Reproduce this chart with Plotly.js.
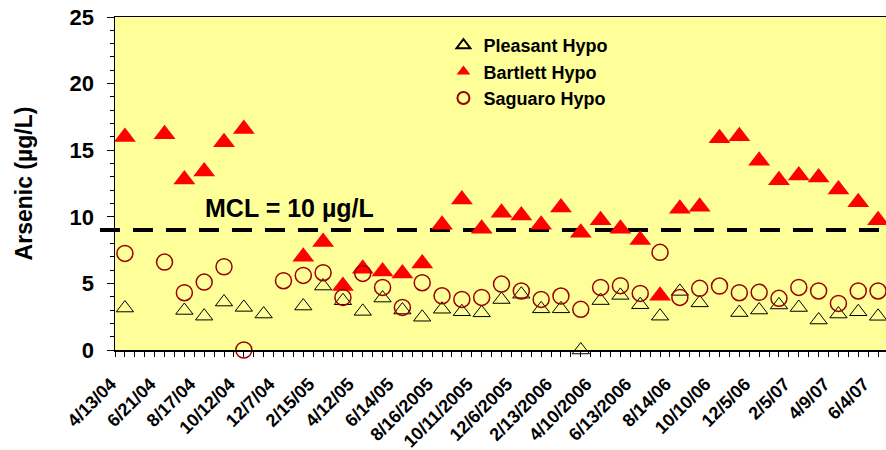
<!DOCTYPE html>
<html>
<head>
<meta charset="utf-8">
<script src="https://cdn.plot.ly/plotly-3.0.1.min.js"></script>
<style>html,body{margin:0;padding:0;background:#fff;}#chart{width:886px;height:450px;}</style>
</head>
<body>
<div id="chart"></div>
<script>
// sample slot positions on the category axis (tick intervals from the left edge)
var sampleSlot = [1,5,7,9,11,13,15,17,19,21,23,25,27,29,31,33,35,37,39,41,43,45,47,49,51,53,55,57,59,61,63,65,67,69,71,73,75,77];

var pleasantHypo = [3.15,null,2.97,2.54,3.6,3.2,2.7,null,3.3,4.8,3.7,2.9,3.9,3.0,2.46,3.06,2.87,2.79,3.79,4.19,3.09,3.09,0,3.71,4.1,3.4,2.54,4.4,3.54,null,2.81,3.0,3.38,3.19,2.25,2.7,2.87,2.53];
var bartlettHypo = [16.0,16.2,12.8,13.4,15.6,16.6,null,null,7.0,8.1,4.8,6.1,5.9,5.75,6.5,9.4,11.3,9.1,10.3,10.1,9.4,10.7,8.8,9.75,9.1,8.25,4.07,10.6,10.75,15.9,16.05,14.2,12.75,13.1,12.95,12.05,11.1,9.75];
var saguaroHypo = [7.25,6.6,4.3,5.1,6.25,0,null,5.2,5.6,5.8,3.95,5.75,4.7,3.2,5.05,4.07,3.8,3.95,4.95,4.43,3.8,4.05,3.05,4.7,4.83,4.25,7.33,3.95,4.63,4.8,4.3,4.33,3.88,4.7,4.43,3.5,4.43,4.43];

var labelSlot = [1,5,9,13,17,21,25,29,33,37,41,45,49,53,57,61,65,69,73,77];
var labelText = ["4/13/04","6/21/04","8/17/04","10/12/04","12/7/04","2/15/05","4/12/05","6/14/05","8/16/2005","10/11/2005","12/6/2005","2/13/2006","4/10/2006","6/13/2006","8/14/06","10/10/06","12/5/06","2/5/07","4/9/07","6/4/07"];

var mclLevel = 9;
var FONT = "Liberation Sans, Arial, sans-serif";

var traces = [
  {x: sampleSlot, y: pleasantHypo, name: "Pleasant Hypo", type: "scatter", mode: "markers", cliponaxis: false,
   marker: {symbol: "triangle-up-open", size: 15, color: "#000000", line: {width: 1, color: "#000000"}}},
  {x: sampleSlot, y: bartlettHypo, name: "Bartlett Hypo", type: "scatter", mode: "markers", cliponaxis: false,
   marker: {symbol: "triangle-up", size: 19, color: "#FF0000", line: {width: 0}}},
  {x: sampleSlot, y: saguaroHypo, name: "Saguaro Hypo", type: "scatter", mode: "markers", cliponaxis: false,
   marker: {symbol: "circle-open", size: 16, color: "#990000", line: {width: 1.5, color: "#990000"}}}
];

var layout = {
  width: 886, height: 450,
  margin: {l: 115, r: 0, t: 17, b: 100, pad: 0},
  paper_bgcolor: "#FFFFFF",
  plot_bgcolor: "#FFFF99",
  font: {family: FONT, color: "#000000"},
  showlegend: true,
  legend: {x: 0.426, y: 0.97, xanchor: "left", yanchor: "top", bgcolor: "rgba(0,0,0,0)",
           itemsizing: "constant", font: {family: FONT, size: 18, weight: "bold", color: "#000"}},
  xaxis: {
    range: [0, 77.8], showgrid: false, zeroline: false,
    showline: true, linecolor: "#000", linewidth: 1.5, mirror: true,
    tickmode: "array", tickvals: labelSlot, ticktext: labelText,
    ticks: "outside", ticklen: 5, tickcolor: "#000", tickwidth: 1,
    ticklabelshift: -14, ticklabelstandoff: 10,
    tickangle: -45, tickfont: {family: FONT, size: 18, weight: "bold", color: "#000"},
    minor: {tickmode: "linear", tick0: 0, dtick: 1, ticks: "outside", ticklen: 5, tickcolor: "#000", tickwidth: 1, showgrid: false}
  },
  yaxis: {
    range: [0, 25], dtick: 5, tick0: 0, showgrid: false, zeroline: false,
    showline: true, linecolor: "#000", linewidth: 1.5, mirror: true,
    ticks: "outside", ticklen: 7, tickcolor: "#000", tickwidth: 1,
    ticklabelstandoff: 8,
    tickfont: {family: FONT, size: 22, weight: "bold", color: "#000"},
    minor: {dtick: 1, ticks: "outside", ticklen: 4, tickcolor: "#000", tickwidth: 1, showgrid: false},
    title: {text: "Arsenic (µg/L)", standoff: 30, font: {family: FONT, size: 23, weight: "bold", color: "#000"}}
  },
  shapes: [{type: "line", xref: "paper", yref: "y", x0: -0.0195, x1: 1, y0: mclLevel, y1: mclLevel,
            layer: "below", line: {color: "#000", width: 4, dash: "20px,13px"}}],
  annotations: [{xref: "x", yref: "y", x: 17.6, y: 10.65, text: "MCL = 10 µg/L", showarrow: false,
                 font: {family: FONT, size: 25, weight: "bold", color: "#000"}}]
};

Plotly.newPlot("chart", traces, layout, {displayModeBar: false, staticPlot: true});
</script>
</body>
</html>
